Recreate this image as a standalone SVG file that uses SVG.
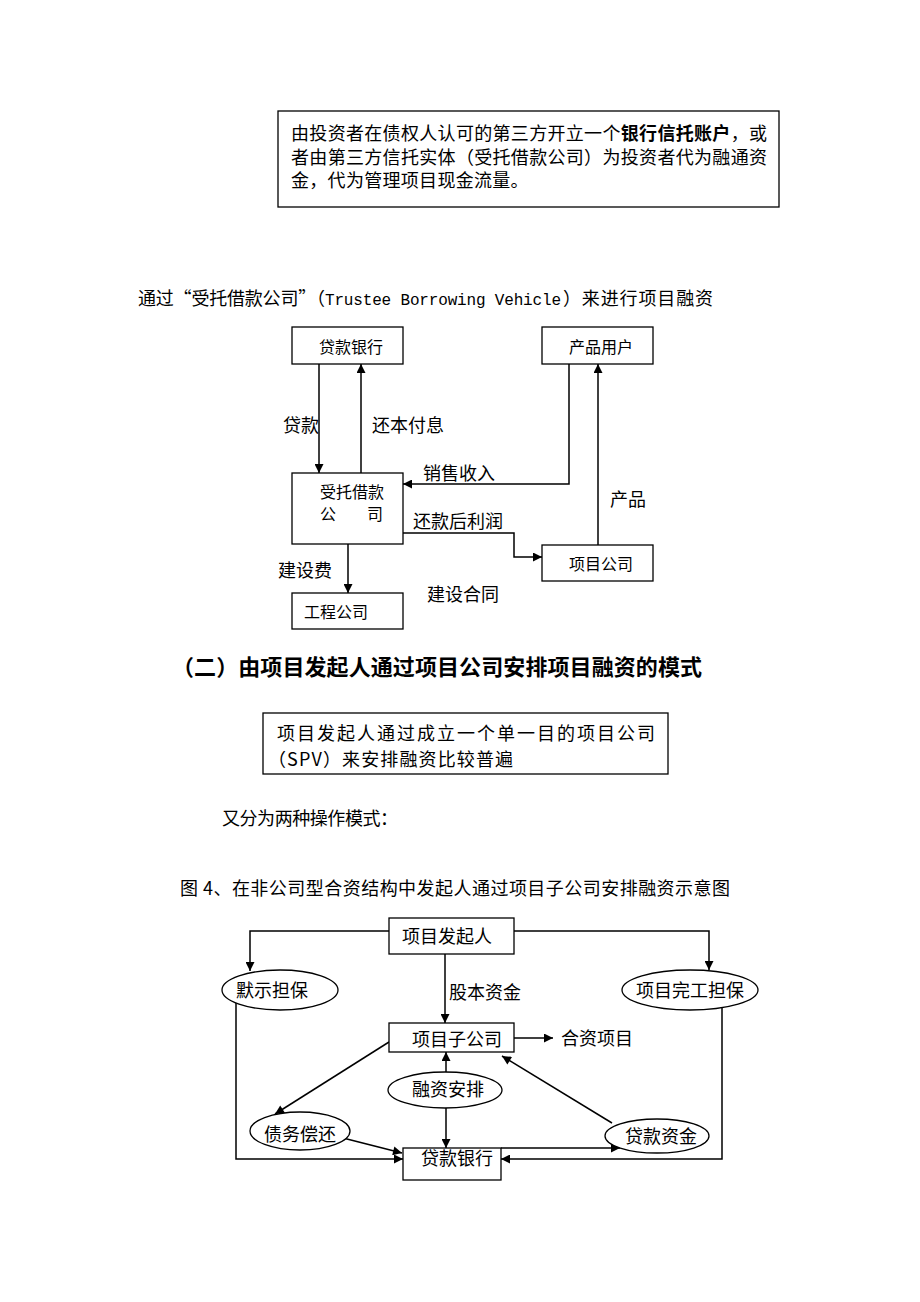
<svg xmlns="http://www.w3.org/2000/svg" width="920" height="1302" viewBox="0 0 920 1302">
<style>
  text { font-family: "Noto Sans CJK SC", "Liberation Sans", sans-serif; fill: #000; }
  .t18 { font-size: 18px; }
  .t16 { font-size: 16px; }
  .mid { text-anchor: middle; }
  .box { fill: #fff; stroke: #000; stroke-width: 1.3; }
  .ell { fill: #fff; stroke: #000; stroke-width: 1.3; }
  .ln { fill: none; stroke: #000; stroke-width: 1.5; }
  .arr { fill: none; stroke: #000; stroke-width: 1.5; marker-end: url(#ah); }
  .bold { font-weight: bold; }
</style>
<defs>
  <marker id="ah" viewBox="0 0 10 10" refX="10" refY="5" markerWidth="10" markerHeight="9" orient="auto" markerUnits="userSpaceOnUse">
    <path d="M0,0 L10,5 L0,10 z" fill="#000"/>
  </marker>
</defs>
<rect width="920" height="1302" fill="#fff"/>

<!-- Top note box -->
<g id="note-box">
  <rect class="box" x="278" y="111" width="501" height="96"/>
  <text class="t18" x="291" y="140" textLength="476" lengthAdjust="spacing">由投资者在债权人认可的第三方开立一个<tspan class="bold">银行信托账户</tspan>，或</text>
  <text class="t18" x="291" y="164" textLength="476" lengthAdjust="spacing">者由第三方信托实体（受托借款公司）为投资者代为融通资</text>
  <text class="t18" x="291" y="187" style="letter-spacing:0.3px">金，代为管理项目现金流量。</text>
</g>

<!-- Title -->
<g id="title1">
  <text class="t18" y="305"><tspan x="138" textLength="187" lengthAdjust="spacing">通过“受托借款公司”（</tspan><tspan x="325" style="font-family:'Liberation Mono',monospace;font-size:16px" textLength="236" lengthAdjust="spacing">Trustee Borrowing Vehicle</tspan><tspan x="563" textLength="150" lengthAdjust="spacing">）来进行项目融资</tspan></text>
</g>

<!-- Upper diagram nodes -->
<g id="n-bank1">
  <rect class="box" x="292" y="327" width="111" height="37"/>
  <text class="t16 mid" x="351" y="353">贷款银行</text>
</g>
<g id="n-user">
  <rect class="box" x="542" y="327" width="111" height="37"/>
  <text class="t16 mid" x="601" y="353">产品用户</text>
</g>
<g id="n-trustee">
  <rect class="box" x="292" y="473" width="111" height="71"/>
  <text class="t16" x="320" y="498">受托借款</text>
  <text class="t16" x="320" y="520">公<tspan x="367">司</tspan></text>
</g>
<g id="n-projco">
  <rect class="box" x="542" y="545" width="111" height="36"/>
  <text class="t16 mid" x="601" y="570">项目公司</text>
</g>
<g id="n-eng">
  <rect class="box" x="292" y="593" width="111" height="36"/>
  <text class="t16 mid" x="336" y="618">工程公司</text>
</g>

<!-- Upper diagram connectors -->
<g id="edges-upper">
  <line class="arr" x1="319" y1="364" x2="319" y2="473"/>
  <line class="arr" x1="361" y1="473" x2="361" y2="364"/>
  <path class="arr" d="M569,364 V484 H403"/>
  <line class="arr" x1="598" y1="545" x2="598" y2="364"/>
  <path class="arr" d="M403,533 H514 V557 H542"/>
  <line class="arr" x1="348" y1="544" x2="348" y2="593"/>
</g>
<g id="labels-upper">
  <text class="t18" x="283" y="432">贷款</text>
  <text class="t18" x="372" y="432">还本付息</text>
  <text class="t18" x="423" y="480">销售收入</text>
  <text class="t18" x="610" y="506">产品</text>
  <text class="t18" x="413" y="528">还款后利润</text>
  <text class="t18" x="278" y="577">建设费</text>
  <text class="t18" x="427" y="601">建设合同</text>
</g>

<!-- Heading -->
<g id="heading2">
  <text class="bold" x="172" y="675" style="font-size:22px" textLength="530" lengthAdjust="spacing">（二）由项目发起人通过项目公司安排项目融资的模式</text>
</g>

<!-- SPV box -->
<g id="spv-box">
  <rect class="box" x="263" y="713" width="405" height="61"/>
  <text class="t18" x="277" y="740" textLength="378" lengthAdjust="spacing">项目发起人通过成立一个单一目的项目公司</text>
  <text class="t18" x="268" y="766" textLength="245" lengthAdjust="spacing">（SPV）来安排融资比较普遍</text>
</g>

<g id="para">
  <text class="t18" x="222" y="825" textLength="176" lengthAdjust="spacing">又分为两种操作模式：</text>
</g>

<g id="caption">
  <text class="t18" x="180" y="895" textLength="550" lengthAdjust="spacing">图 4、在非公司型合资结构中发起人通过项目子公司安排融资示意图</text>
</g>

<!-- Lower diagram connectors -->
<g id="edges-lower">
  <path class="arr" d="M389,931 H250 V971"/>
  <path class="arr" d="M514,931 H709 V970"/>
  <line class="arr" x1="445" y1="954" x2="445" y2="1023"/>
  <line class="arr" x1="514" y1="1038" x2="553" y2="1038"/>
  <line class="arr" x1="389" y1="1042" x2="275" y2="1114"/>
  <line class="arr" x1="446" y1="1072" x2="446" y2="1052"/>
  <line class="arr" x1="446" y1="1108" x2="446" y2="1148"/>
  <line class="arr" x1="612" y1="1123" x2="502" y2="1056"/>
  <line class="arr" x1="343" y1="1138" x2="402" y2="1153"/>
  <path class="arr" d="M236,1003 V1159 H403"/>
  <path class="arr" d="M722,1008 V1159 H501"/>
  <line class="arr" x1="501" y1="1148" x2="620" y2="1148"/>
</g>

<!-- Lower diagram nodes -->
<g id="n-sponsor">
  <rect class="box" x="389" y="918" width="125" height="36"/>
  <text class="t18 mid" x="447" y="943">项目发起人</text>
</g>
<g id="n-implicit">
  <ellipse class="ell" cx="280" cy="990" rx="58" ry="20"/>
  <text class="t18 mid" x="272" y="997">默示担保</text>
</g>
<g id="n-completion">
  <ellipse class="ell" cx="690" cy="990" rx="68" ry="20"/>
  <text class="t18 mid" x="690" y="997">项目完工担保</text>
</g>
<g id="lbl-equity">
  <text class="t18" x="449" y="999">股本资金</text>
</g>
<g id="n-sub">
  <rect class="box" x="389" y="1023" width="125" height="29"/>
  <text class="t18 mid" x="457" y="1046">项目子公司</text>
</g>
<g id="lbl-jv">
  <text class="t18" x="561" y="1045">合资项目</text>
</g>
<g id="n-finarr">
  <ellipse class="ell" cx="445" cy="1090" rx="57" ry="18"/>
  <text class="t18 mid" x="448" y="1096">融资安排</text>
</g>
<g id="n-debt">
  <ellipse class="ell" cx="300" cy="1131" rx="50" ry="19"/>
  <text class="t18 mid" x="300" y="1141">债务偿还</text>
</g>
<g id="n-loanfund">
  <ellipse class="ell" cx="657" cy="1136" rx="52" ry="17"/>
  <text class="t18 mid" x="661" y="1143">贷款资金</text>
</g>
<g id="n-bank2">
  <rect class="box" x="403" y="1148" width="98" height="32"/>
  <text class="t18 mid" x="457" y="1165">贷款银行</text>
</g>
</svg>
